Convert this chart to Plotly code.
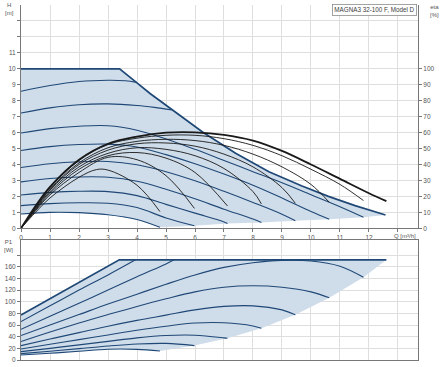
import plotly.graph_objects as go

# ---------------- data ----------------
# Q/H speed curves (top chart)
env_q = [0, 3.4, 4.0, 4.45, 5.12, 6.26, 7.4, 8.55, 9.69, 10.6, 11.52, 12.57]
env_h = [10, 10, 9.12, 8.45, 7.56, 6.04, 4.7, 3.54, 2.65, 2.0, 1.42, 0.83]

h_curves_q = [
    [0, 1, 2, 3, 3.6, 3.98],
    [0, 1, 2, 3, 4, 4.6, 5.2],
    [0, 1, 2, 3, 4, 5, 6, 7, 8, 9, 10, 11, 11.81],
    [0, 1, 2, 3, 4, 5, 6, 7, 8, 9, 10, 10.63],
    [0, 1, 2, 3, 4, 5, 6, 7, 8, 9, 9.46],
    [0, 1, 2, 3, 4, 5, 6, 7, 8, 8.29],
    [0, 1, 2, 3, 4, 5, 6, 7, 7.12],
    [0, 1, 2, 3, 4, 5, 5.98],
    [0, 1, 2, 3, 4, 4.79],
]
h_curves_h = [
    [8.59, 8.95, 9.2, 9.28, 9.25, 9.15],
    [7.23, 7.55, 7.75, 7.8, 7.7, 7.58, 7.42],
    [5.97, 6.25, 6.4, 6.43, 6.15, 5.6, 4.95, 4.25, 3.55, 2.85, 2.1, 1.35, 0.69],
    [4.88, 5.12, 5.25, 5.28, 5.1, 4.62, 4.05, 3.4, 2.7, 1.9, 1.05, 0.57],
    [3.81, 4.05, 4.17, 4.19, 3.98, 3.55, 2.98, 2.32, 1.62, 0.88, 0.47],
    [2.91, 3.12, 3.22, 3.2, 2.95, 2.45, 1.85, 1.2, 0.58, 0.37],
    [2.09, 2.25, 2.32, 2.3, 2.05, 1.5, 0.95, 0.4, 0.3],
    [1.42, 1.55, 1.6, 1.57, 1.3, 0.65, 0.16],
    [0.9, 1.0, 0.98, 0.85, 0.55, 0.06],
]
bottom_q = [4.79, 5.98, 7.12, 8.29, 9.46, 10.63, 11.81, 12.57]
bottom_h = [0.06, 0.16, 0.3, 0.37, 0.47, 0.57, 0.69, 0.83]

# efficiency curves (eta %, right axis)
eta_max_q = [0, 0.5, 1, 2, 3, 4, 5, 6, 7, 8, 9, 10, 11, 12, 12.6]
eta_max_v = [0, 14, 26, 43, 53, 57.5, 60, 60.2, 58.6, 55, 48.5, 40, 31, 22, 17]
eta_q = [
    [0, 0.5, 1, 2, 3, 4, 5, 6, 7, 8, 9, 10, 11, 11.81],
    [0, 0.5, 1, 2, 3, 4, 5, 6, 7, 8, 9, 10, 10.63],
    [0, 0.5, 1, 2, 3, 4, 5, 6, 7, 8, 9, 9.46],
    [0, 0.5, 1, 2, 3, 4, 5, 6, 7, 8, 8.29],
    [0, 0.5, 1, 2, 3, 4, 5, 6, 7.12],
    [0, 0.5, 1, 2, 3, 4, 5, 5.98],
    [0, 0.5, 1, 2, 2.6, 3, 4, 4.79],
]
eta_v = [
    [0, 13.5, 25.5, 42.5, 52.5, 56.5, 58.3, 58.3, 56.2, 52, 45.5, 37, 27.5, 17.4],
    [0, 13, 24.5, 41, 50.5, 54.5, 55.8, 55, 52, 46.5, 38.5, 27.5, 16.3],
    [0, 12.5, 24, 40, 49, 53, 53.5, 51.5, 46.5, 38.5, 25.5, 15.7],
    [0, 12, 23, 38.5, 47, 50.5, 49.5, 45.5, 37.5, 23, 15.3],
    [0, 11.5, 22, 37, 45.5, 47.5, 44, 35, 14],
    [0, 11, 21, 35, 44.5, 43, 33, 12.5],
    [0, 10, 19, 32, 36.8, 36.5, 27, 10.5],
]

# P1 power curves (bottom chart)
pmax_q = [0, 3.39, 12.6]
pmax_p = [77.4, 172, 172]
p_curves_q = [
    [0, 1, 2, 3, 3.95],
    [0, 1, 2, 3, 4, 5, 5.28],
    [0, 1, 2, 3, 4, 5, 6, 7, 8, 9, 10, 11, 11.81],
    [0, 1, 2, 3, 4, 5, 6, 7, 8, 9, 10, 10.63],
    [0, 1, 2, 3, 4, 5, 6, 7, 8, 9, 9.46],
    [0, 1, 2, 3, 4, 5, 6, 7, 8, 8.29],
    [0, 1, 2, 3, 4, 5, 6, 7, 7.12],
    [0, 1, 2, 3, 4, 5, 5.98],
    [0, 1, 2, 3, 4, 4.79],
]
p_curves_p = [
    [66, 93, 120, 146, 172],
    [52.8, 75, 97.5, 120, 143, 165, 172],
    [41.9, 60, 78, 96, 113, 130, 146, 159, 167, 171, 170, 161, 142],
    [31.6, 48, 63.5, 78, 92, 105, 117, 125, 127.5, 125, 117, 107],
    [24.7, 36, 47, 58, 68, 77, 86, 92, 93, 86, 77.5],
    [18.9, 27, 35, 43, 51, 58, 63.5, 64, 58.5, 54.5],
    [14.3, 20, 26, 32, 38, 42, 42.5, 38, 37.3],
    [10.9, 15, 19.5, 24, 27.5, 28.5, 24.7],
    [8.6, 11.5, 15, 18.5, 18.3, 15.5],
]
pend_q = [4.79, 5.98, 7.12, 8.29, 9.46, 10.63, 11.81, 12.6]
pend_p = [15.5, 24.7, 37.3, 54.5, 77.5, 107, 142, 172]

x_ticks = list(range(0, 14))
h_ticks = list(range(0, 14))
h_labels = [str(v) if v <= 11 else "" for v in h_ticks]
eta_ticks = list(range(0, 101, 10))
p_ticks = list(range(0, 181, 20))
p_labels = [str(v) if v <= 160 else "" for v in p_ticks]

title_text = "MAGNA3 32-100 F, Model D"

# ---------------- styles ----------------
FILL = "rgb(207,220,234)"
BLUE = "rgb(31,72,118)"
BLACK = "rgb(25,25,25)"
GRID = "rgb(222,222,222)"
AX = "rgb(120,120,120)"
TXT = "rgb(85,85,85)"
FONT = "Liberation Sans, Arial, sans-serif"

fig = go.Figure()

# top fill polygon
fx = env_q + bottom_q[::-1][1:] + h_curves_q[-1][::-1]
fy = env_h + bottom_h[::-1][1:] + h_curves_h[-1][::-1]
fig.add_trace(go.Scatter(x=fx, y=fy, fill="toself", fillcolor=FILL, mode="none",
                         xaxis="x", yaxis="y", hoverinfo="skip"))
for q, h in zip(h_curves_q, h_curves_h):
    fig.add_trace(go.Scatter(x=q, y=h, mode="lines", line=dict(color=BLUE, width=1.1, shape="spline"),
                             xaxis="x", yaxis="y"))
fig.add_trace(go.Scatter(x=env_q, y=env_h, mode="lines", line=dict(color=BLUE, width=1.7),
                         xaxis="x", yaxis="y"))
for q, e in zip(eta_q, eta_v):
    fig.add_trace(go.Scatter(x=q, y=e, mode="lines", line=dict(color=BLACK, width=0.9, shape="spline"),
                             xaxis="x", yaxis="y2"))
fig.add_trace(go.Scatter(x=eta_max_q, y=eta_max_v, mode="lines",
                         line=dict(color=BLACK, width=1.8, shape="spline"), xaxis="x", yaxis="y2"))

# bottom fill polygon
bx = pmax_q + pend_q[::-1][1:] + p_curves_q[-1][::-1]
by = pmax_p + pend_p[::-1][1:] + p_curves_p[-1][::-1]
fig.add_trace(go.Scatter(x=bx, y=by, fill="toself", fillcolor=FILL, mode="none",
                         xaxis="x2", yaxis="y3", hoverinfo="skip"))
for q, p in zip(p_curves_q, p_curves_p):
    fig.add_trace(go.Scatter(x=q, y=p, mode="lines", line=dict(color=BLUE, width=1.1, shape="spline"),
                             xaxis="x2", yaxis="y3"))
fig.add_trace(go.Scatter(x=pmax_q, y=pmax_p, mode="lines", line=dict(color=BLUE, width=1.7),
                         xaxis="x2", yaxis="y3"))

W, H = 440, 367
ML, MR, MT, MB = 21, 22, 5, 7
PW, PH = W - ML - MR, H - MT - MB


def px(x):
    return (x - ML) / PW


def py(y):
    return (H - MB - y) / PH


tickfont = dict(family=FONT, size=6.5, color=TXT)
common_x = dict(range=[0, 13.69], tickvals=x_ticks, showgrid=True, gridcolor=GRID, gridwidth=1,
                zeroline=False, showline=True, linecolor=AX, linewidth=1, ticks="outside",
                ticklen=3, tickcolor=AX, tickfont=tickfont)

fig.update_layout(
    width=W, height=H, margin=dict(l=ML, r=MR, t=MT, b=MB),
    paper_bgcolor="white", plot_bgcolor="white", showlegend=False,
    font=dict(family=FONT, size=6.5, color=TXT),
    xaxis=dict(common_x, domain=[0, 1], anchor="y",
               ticktext=[str(v) if v <= 12 else "" for v in x_ticks]),
    yaxis=dict(domain=[py(228.3), 1], range=[0, 14], tickvals=h_ticks, ticktext=h_labels,
               showgrid=True, gridcolor=GRID, zeroline=False, showline=True, linecolor=AX,
               ticks="outside", ticklen=3, tickcolor=AX, tickfont=tickfont),
    yaxis2=dict(overlaying="y", side="right", range=[0, 140], tickvals=eta_ticks,
                showgrid=False, zeroline=False, showline=True, linecolor=AX,
                ticks="outside", ticklen=3, tickcolor=AX, tickfont=tickfont, anchor="x"),
    xaxis2=dict(common_x, domain=[0, 1], anchor="y3", showticklabels=False, ticks="",
                mirror=True),
    yaxis3=dict(domain=[0, py(240)], range=[0, 206], tickvals=p_ticks, ticktext=p_labels,
                showgrid=True, gridcolor=GRID, zeroline=False, showline=True, linecolor=AX,
                mirror=True, ticks="outside", ticklen=3, tickcolor=AX, tickfont=tickfont),
)

ann_font = dict(family=FONT, size=6, color=TXT)
fig.add_annotation(text="H<br>[m]", x=px(9), y=py(9.5), xref="paper", yref="paper",
                   showarrow=False, font=ann_font, xanchor="center", yanchor="middle")
fig.add_annotation(text="eta<br>[%]", x=px(434), y=py(11), xref="paper", yref="paper",
                   showarrow=False, font=ann_font, xanchor="center", yanchor="middle")
fig.add_annotation(text="P1<br>[W]", x=px(8), y=py(246), xref="paper", yref="paper",
                   showarrow=False, font=ann_font, xanchor="center", yanchor="middle")
fig.add_annotation(text="Q [m³/h]", x=px(405), y=py(236), xref="paper", yref="paper",
                   showarrow=False, font=ann_font, xanchor="center", yanchor="middle")
fig.add_annotation(text=title_text, x=px(374), y=py(10), xref="paper", yref="paper",
                   showarrow=False, font=dict(family=FONT, size=6.3, color="rgb(60,60,60)"),
                   xanchor="center", yanchor="middle", bordercolor="rgb(140,140,140)",
                   borderwidth=0.8, borderpad=1.5, bgcolor="white")

fig.write_html("out.html", config={"displayModeBar": False},
               post_script="document.body.style.margin='0';document.body.style.overflow='hidden';")
